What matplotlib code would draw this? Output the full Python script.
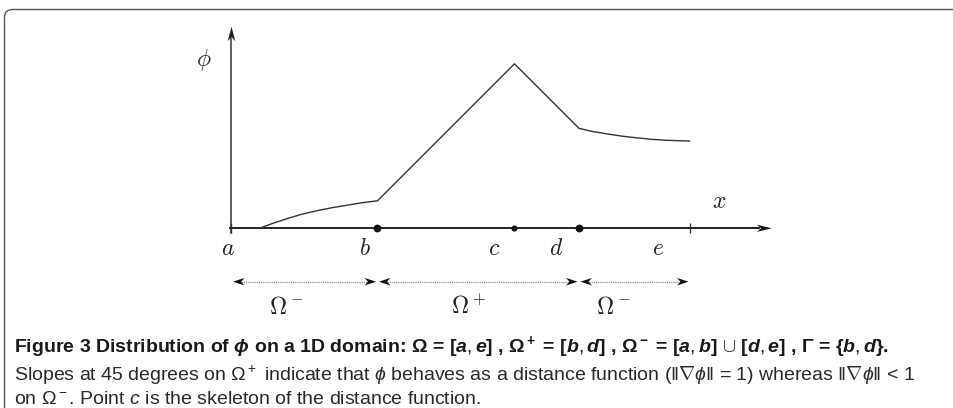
import numpy as np
import matplotlib.pyplot as plt
from matplotlib.patches import Polygon, PathPatch
from matplotlib.path import Path

# points of the 1D domain (diagram units, a = 0)
point_names = ['a', 'b', 'c', 'd', 'e']
point_x = [0.0, 14.6, 28.3, 34.75, 45.85]

# phi(x): curved part on [a, b], 45 degree slopes on [b, d], curved part on [d, e]
left_x = [2.8, 4.0, 5.5, 7.0, 8.5, 10.0, 11.5, 13.0, 14.6]
left_y = [0.0, 0.45, 0.95, 1.4, 1.75, 2.05, 2.3, 2.55, 2.75]
mid_x = [14.6, 28.3, 34.75]
mid_y = [2.75, 16.45, 10.0]
right_x = [34.75, 36.0, 37.5, 39.0, 40.5, 42.0, 43.5, 45.0, 45.8]
right_y = [10.0, 9.7, 9.45, 9.22, 9.05, 8.9, 8.8, 8.75, 8.73]

region_labels = [r'$\Omega^-$', r'$\Omega^+$', r'$\Omega^-$']

cap_font = 'Liberation Sans'
plt.rcParams['mathtext.fontset'] = 'custom'
plt.rcParams['mathtext.rm'] = cap_font
plt.rcParams['mathtext.it'] = cap_font + ':italic'
plt.rcParams['mathtext.bf'] = cap_font + ':bold'
plt.rcParams['mathtext.bfit'] = cap_font + ':italic:bold'

fig = plt.figure(figsize=(9.54, 4.08), dpi=100)
ax = fig.add_axes([0, 0, 1, 1])
# 1 unit = 10 px, origin at point a on the x axis
ax.set_xlim(-23.15, 72.25)
ax.set_ylim(-17.97, 22.83)
ax.axis('off')


def stealth(x, y, ux, uy, length, half, color='#111111'):
    # LaTeX-like stealth arrowhead with tip at (x, y) pointing along (ux, uy)
    px, py = -uy, ux
    bx, by = x - ux * length, y - uy * length
    nx, ny = x - ux * length * 0.7, y - uy * length * 0.7
    pts = [(x, y), (bx + px * half, by + py * half), (nx, ny), (bx - px * half, by - py * half)]
    ax.add_patch(Polygon(pts, closed=True, color=color, lw=0, zorder=5))


# axes
ax.plot([0, 0], [-0.45, 19.0], color='#333333', lw=1.1)
stealth(0, 20.16, 0, 1, 1.45, 0.38, '#222222')
ax.plot([-0.1, 52.8], [0, 0], color='#111111', lw=1.3)
stealth(54.02, 0, 1, 0, 1.5, 0.36)
ax.vlines([point_x[0], point_x[4]], -0.5, 0.55, color='#333333', lw=1.0)

# phi curve
cx = left_x + mid_x[1:] + right_x[1:]
cy = left_y + mid_y[1:] + right_y[1:]
ax.plot(cx, cy, color='#333333', lw=1.0, solid_joinstyle='miter')

# points b, c, d
ax.plot([point_x[1], point_x[3]], [0, 0], 'o', color='#111111', ms=4.6, zorder=6)
ax.plot([point_x[2]], [0], 'o', color='#111111', ms=3.4, zorder=6)

# point labels
label_x = [-0.38, 13.35, 26.25, 32.42, 42.65]
for name, lx in zip(point_names, label_x):
    ax.text(lx, -1.97, '$' + name + '$', fontsize=17, ha='center', va='center',
            math_fontfamily='cm', color='#222222')
ax.text(-2.75, 16.83, r'$\phi$', fontsize=17, ha='center', va='center',
        math_fontfamily='cm', color='#333333')
ax.text(48.75, 2.76, r'$x$', fontsize=17, ha='center', va='center',
        math_fontfamily='cm', color='#222222')

# dotted double arrows for the sub-domains
ya = -5.34
bounds = [(point_x[0], point_x[1]), (point_x[1], point_x[3]), (point_x[3], point_x[4])]
region_x = [5.45, 23.65, 38.15]
for (x0, x1), lab, rx in zip(bounds, region_labels, region_x):
    ax.plot([x0 + 0.9, x1 - 0.9], [ya, ya], color='#666666', lw=0.9, ls=(0, (0.6, 0.9)))
    stealth(x0 + 0.15, ya, -1, 0, 1.15, 0.38)
    stealth(x1 - 0.15, ya, 1, 0, 1.15, 0.38)
    ax.text(rx, -7.87, lab, fontsize=17, ha='center', va='center',
            math_fontfamily='cm', color='#222222')

# frame: only the rounded top-left corner is visible (pixel coordinates)
top = 408 - 9.5
r = 8
frame_path = Path([(4.5, -5), (4.5, top - r), (4.5, top), (4.5 + r, top), (960, top)],
                  [Path.MOVETO, Path.LINETO, Path.CURVE3, Path.CURVE3, Path.LINETO])
fig.patches.append(PathPatch(frame_path, transform=None, fill=False, ec='#555555', lw=1.0))

# caption
title = (r'Figure 3 Distribution of $\boldsymbol{\phi}$ on a 1D domain: '
         r'$\mathbf{\Omega}$ = [$\boldsymbol{a, e}$] , $\mathbf{\Omega^+}$ = [$\boldsymbol{b, d}$] , '
         r'$\mathbf{\Omega^-}$ = [$\boldsymbol{a, b}$] $\cup$ [$\boldsymbol{d, e}$] , '
         r'$\mathbf{\Gamma}$ = {$\boldsymbol{b, d}$}.')
fig.text(14 / 954, 1 - 352 / 408, title, fontsize=14, fontweight='bold', family=cap_font,
         color='#1a1a1a', ha='left', va='baseline')
line2 = (r'Slopes at 45 degrees on $\Omega^+$ indicate that $\phi$ behaves as a distance function '
         r'($\Vert\nabla\phi\Vert$ = 1) whereas $\Vert\nabla\phi\Vert$ < 1')
fig.text(14 / 954, 1 - 381 / 408, line2, fontsize=14, family=cap_font, color='#2a2a2a',
         ha='left', va='baseline')
line3 = r'on $\Omega^-$. Point $c$ is the skeleton of the distance function.'
fig.text(14 / 954, 1 - 404 / 408, line3, fontsize=14, family=cap_font, color='#2a2a2a',
         ha='left', va='baseline')

fig.savefig('out.png', dpi=100)
